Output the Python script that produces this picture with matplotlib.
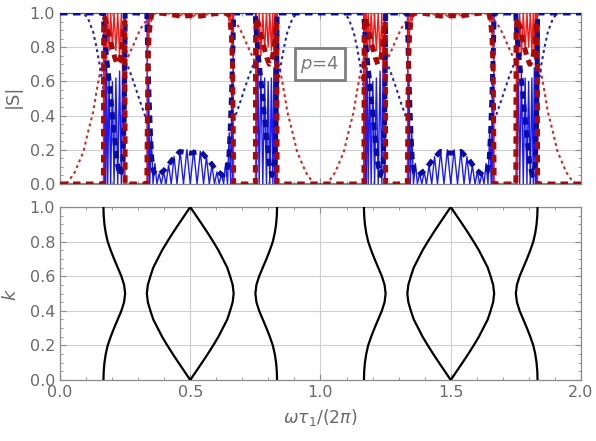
import matplotlib.pyplot as plt
import numpy as np

plt.rcParams['mathtext.fontset'] = 'dejavusans'

# ---------------- top panel: |S| vs omega*tau1/(2pi) ----------------
# finite structure, solid lines (|r| blue, |t| red), one list per pass band
w_b1 = [0.1667, 0.1670, 0.1677, 0.1689, 0.1705, 0.1728, 0.1755, 0.1790, 0.1830, 0.1885, 0.1945,
        0.2010, 0.2075, 0.2145, 0.2215, 0.2287, 0.2355, 0.2412, 0.2460, 0.2485, 0.2500]
r_b1 = [1.0, 0.99, 0.0, 0.90, 0.0, 0.78, 0.0, 0.68, 0.0, 0.62, 0.0,
        0.60, 0.0, 0.62, 0.0, 0.66, 0.0, 0.80, 0.0, 0.97, 1.0]
t_b1 = [0.0, 0.14, 1.0, 0.44, 1.0, 0.63, 1.0, 0.73, 1.0, 0.78, 1.0,
        0.80, 1.0, 0.78, 1.0, 0.75, 1.0, 0.60, 1.0, 0.24, 0.0]

w_b2 = [0.3333, 0.3341, 0.3365, 0.3400, 0.3445, 0.3505, 0.3570, 0.3643, 0.3720, 0.3803, 0.3890,
        0.3978, 0.4070, 0.4168, 0.4270, 0.4378, 0.4490, 0.4613, 0.4740, 0.4870, 0.5000,
        0.5130, 0.5260, 0.5387, 0.5510, 0.5622, 0.5730, 0.5832, 0.5930, 0.6022, 0.6110,
        0.6197, 0.6280, 0.6357, 0.6430, 0.6495, 0.6555, 0.6600, 0.6635, 0.6659, 0.6667]
r_b2 = [1.0, 0.95, 0.0, 0.60, 0.0, 0.30, 0.0, 0.12, 0.0, 0.06, 0.0,
        0.07, 0.0, 0.11, 0.0, 0.16, 0.0, 0.19, 0.0, 0.20, 0.0,
        0.20, 0.0, 0.19, 0.0, 0.16, 0.0, 0.11, 0.0, 0.07, 0.0,
        0.06, 0.0, 0.12, 0.0, 0.30, 0.0, 0.60, 0.0, 0.95, 1.0]
t_b2 = [0.0, 0.31, 1.0, 0.80, 1.0, 0.95, 1.0, 0.993, 1.0, 0.998, 1.0,
        0.998, 1.0, 0.994, 1.0, 0.987, 1.0, 0.982, 1.0, 0.980, 1.0,
        0.980, 1.0, 0.982, 1.0, 0.987, 1.0, 0.994, 1.0, 0.998, 1.0,
        0.998, 1.0, 0.993, 1.0, 0.95, 1.0, 0.80, 1.0, 0.31, 0.0]

w_b3 = [0.7500, 0.7515, 0.7540, 0.7588, 0.7645, 0.7713, 0.7785, 0.7855, 0.7925, 0.7990, 0.8055,
        0.8115, 0.8170, 0.8210, 0.8245, 0.8272, 0.8295, 0.8311, 0.8323, 0.8330, 0.8333]
r_b3 = [1.0, 0.97, 0.0, 0.80, 0.0, 0.66, 0.0, 0.62, 0.0, 0.60, 0.0,
        0.62, 0.0, 0.68, 0.0, 0.78, 0.0, 0.90, 0.0, 0.99, 1.0]
t_b3 = [0.0, 0.24, 1.0, 0.60, 1.0, 0.75, 1.0, 0.78, 1.0, 0.80, 1.0,
        0.78, 1.0, 0.73, 1.0, 0.63, 1.0, 0.44, 1.0, 0.14, 0.0]

w_b4 = [1.1667, 1.1670, 1.1677, 1.1689, 1.1705, 1.1728, 1.1755, 1.1790, 1.1830, 1.1885, 1.1945,
        1.2010, 1.2075, 1.2145, 1.2215, 1.2287, 1.2355, 1.2412, 1.2460, 1.2485, 1.2500]
r_b4 = [1.0, 0.99, 0.0, 0.90, 0.0, 0.78, 0.0, 0.68, 0.0, 0.62, 0.0,
        0.60, 0.0, 0.62, 0.0, 0.66, 0.0, 0.80, 0.0, 0.97, 1.0]
t_b4 = [0.0, 0.14, 1.0, 0.44, 1.0, 0.63, 1.0, 0.73, 1.0, 0.78, 1.0,
        0.80, 1.0, 0.78, 1.0, 0.75, 1.0, 0.60, 1.0, 0.24, 0.0]

w_b5 = [1.3333, 1.3341, 1.3365, 1.3400, 1.3445, 1.3505, 1.3570, 1.3643, 1.3720, 1.3803, 1.3890,
        1.3978, 1.4070, 1.4168, 1.4270, 1.4378, 1.4490, 1.4613, 1.4740, 1.4870, 1.5000,
        1.5130, 1.5260, 1.5387, 1.5510, 1.5622, 1.5730, 1.5832, 1.5930, 1.6022, 1.6110,
        1.6197, 1.6280, 1.6357, 1.6430, 1.6495, 1.6555, 1.6600, 1.6635, 1.6659, 1.6667]
r_b5 = [1.0, 0.95, 0.0, 0.60, 0.0, 0.30, 0.0, 0.12, 0.0, 0.06, 0.0,
        0.07, 0.0, 0.11, 0.0, 0.16, 0.0, 0.19, 0.0, 0.20, 0.0,
        0.20, 0.0, 0.19, 0.0, 0.16, 0.0, 0.11, 0.0, 0.07, 0.0,
        0.06, 0.0, 0.12, 0.0, 0.30, 0.0, 0.60, 0.0, 0.95, 1.0]
t_b5 = [0.0, 0.31, 1.0, 0.80, 1.0, 0.95, 1.0, 0.993, 1.0, 0.998, 1.0,
        0.998, 1.0, 0.994, 1.0, 0.987, 1.0, 0.982, 1.0, 0.980, 1.0,
        0.980, 1.0, 0.982, 1.0, 0.987, 1.0, 0.994, 1.0, 0.998, 1.0,
        0.998, 1.0, 0.993, 1.0, 0.95, 1.0, 0.80, 1.0, 0.31, 0.0]

w_b6 = [1.7500, 1.7515, 1.7540, 1.7588, 1.7645, 1.7713, 1.7785, 1.7855, 1.7925, 1.7990, 1.8055,
        1.8115, 1.8170, 1.8210, 1.8245, 1.8272, 1.8295, 1.8311, 1.8323, 1.8330, 1.8333]
r_b6 = [1.0, 0.97, 0.0, 0.80, 0.0, 0.66, 0.0, 0.62, 0.0, 0.60, 0.0,
        0.62, 0.0, 0.68, 0.0, 0.78, 0.0, 0.90, 0.0, 0.99, 1.0]
t_b6 = [0.0, 0.24, 1.0, 0.60, 1.0, 0.75, 1.0, 0.78, 1.0, 0.80, 1.0,
        0.78, 1.0, 0.73, 1.0, 0.63, 1.0, 0.44, 1.0, 0.14, 0.0]

# thick dashed curves, one list per period
w_env1 = [0.0, 0.1667, 0.1675, 0.1720, 0.1800, 0.1900, 0.2000, 0.2100, 0.2200, 0.2300, 0.2400, 0.2460, 0.2490, 0.2500,
          0.3333, 0.3370, 0.3420, 0.3470, 0.3520, 0.3600, 0.3750, 0.4000, 0.4300, 0.4600, 0.5000,
          0.5400, 0.5700, 0.6000, 0.6250, 0.6400, 0.6480, 0.6530, 0.6580, 0.6630, 0.6667,
          0.7500, 0.7508, 0.7553, 0.7633, 0.7733, 0.7833, 0.7933, 0.8033, 0.8133, 0.8233, 0.8293, 0.8323, 0.8333]
r_env1 = [1.0, 1.0, 0.95, 0.85, 0.72, 0.58, 0.42, 0.26, 0.12, 0.05, 0.10, 0.35, 0.75, 1.0,
          1.0, 0.75, 0.50, 0.30, 0.15, 0.07, 0.05, 0.08, 0.14, 0.19, 0.18,
          0.19, 0.14, 0.08, 0.05, 0.07, 0.15, 0.30, 0.50, 0.75, 1.0,
          1.0, 0.95, 0.85, 0.72, 0.58, 0.42, 0.26, 0.12, 0.05, 0.10, 0.35, 0.75, 1.0]
t_env1 = [0.0, 0.0, 0.90, 0.97, 0.93, 0.86, 0.80, 0.74, 0.70, 0.72, 0.82, 0.93, 0.95, 0.0,
          0.0, 0.66, 0.87, 0.95, 0.99, 0.998, 0.999, 0.997, 0.99, 0.982, 0.984,
          0.982, 0.99, 0.997, 0.999, 0.998, 0.99, 0.95, 0.87, 0.66, 0.0,
          0.0, 0.90, 0.97, 0.93, 0.86, 0.80, 0.74, 0.70, 0.72, 0.82, 0.93, 0.95, 0.0]
w_env2 = [1.1667, 1.1675, 1.1720, 1.1800, 1.1900, 1.2000, 1.2100, 1.2200, 1.2300, 1.2400, 1.2460, 1.2490, 1.2500,
          1.3333, 1.3370, 1.3420, 1.3470, 1.3520, 1.3600, 1.3750, 1.4000, 1.4300, 1.4600, 1.5000,
          1.5400, 1.5700, 1.6000, 1.6250, 1.6400, 1.6480, 1.6530, 1.6580, 1.6630, 1.6667,
          1.7500, 1.7508, 1.7553, 1.7633, 1.7733, 1.7833, 1.7933, 1.8033, 1.8133, 1.8233, 1.8293, 1.8323, 1.8333, 2.0]
r_env2 = [1.0, 0.95, 0.85, 0.72, 0.58, 0.42, 0.26, 0.12, 0.05, 0.10, 0.35, 0.75, 1.0,
          1.0, 0.75, 0.50, 0.30, 0.15, 0.07, 0.05, 0.08, 0.14, 0.19, 0.18,
          0.19, 0.14, 0.08, 0.05, 0.07, 0.15, 0.30, 0.50, 0.75, 1.0,
          1.0, 0.95, 0.85, 0.72, 0.58, 0.42, 0.26, 0.12, 0.05, 0.10, 0.35, 0.75, 1.0, 1.0]
t_env2 = [0.0, 0.90, 0.97, 0.93, 0.86, 0.80, 0.74, 0.70, 0.72, 0.82, 0.93, 0.95, 0.0,
          0.0, 0.66, 0.87, 0.95, 0.99, 0.998, 0.999, 0.997, 0.99, 0.982, 0.984,
          0.982, 0.99, 0.997, 0.999, 0.998, 0.99, 0.95, 0.87, 0.66, 0.0,
          0.0, 0.90, 0.97, 0.93, 0.86, 0.80, 0.74, 0.70, 0.72, 0.82, 0.93, 0.95, 0.0, 0.0]

# single-cell curves (dotted), only inside the stop bands
w_g1 = [0.0, 0.015, 0.03, 0.057, 0.09, 0.107, 0.127, 0.14, 0.153, 0.1667]
t_g1 = [0.0, 0.0, 0.01, 0.07, 0.19, 0.30, 0.42, 0.54, 0.65, 0.74]
r_g1 = [1.0, 1.0, 1.0, 1.0, 0.998, 0.97, 0.89, 0.80, 0.69, 0.55]
w_g2 = [0.25, 0.26, 0.275, 0.295, 0.31, 0.3333]
t_g2 = [0.71, 0.74, 0.79, 0.86, 0.91, 0.96]
r_g2 = [0.72, 0.69, 0.63, 0.54, 0.47, 0.37]
w_g3 = [0.6667, 0.69, 0.705, 0.725, 0.74, 0.75]
t_g3 = [0.96, 0.91, 0.86, 0.79, 0.74, 0.71]
r_g3 = [0.37, 0.47, 0.54, 0.63, 0.69, 0.72]
w_g4 = [0.8333, 0.847, 0.86, 0.873, 0.893, 0.91, 0.943, 0.97, 0.985, 1.0,
        1.015, 1.03, 1.057, 1.09, 1.107, 1.127, 1.14, 1.153, 1.1667]
t_g4 = [0.74, 0.65, 0.54, 0.42, 0.30, 0.19, 0.07, 0.01, 0.0, 0.0,
        0.0, 0.01, 0.07, 0.19, 0.30, 0.42, 0.54, 0.65, 0.74]
r_g4 = [0.55, 0.69, 0.80, 0.89, 0.97, 0.998, 1.0, 1.0, 1.0, 1.0,
        1.0, 1.0, 1.0, 0.998, 0.97, 0.89, 0.80, 0.69, 0.55]
w_g5 = [1.25, 1.26, 1.275, 1.295, 1.31, 1.3333]
t_g5 = [0.71, 0.74, 0.79, 0.86, 0.91, 0.96]
r_g5 = [0.72, 0.69, 0.63, 0.54, 0.47, 0.37]
w_g6 = [1.6667, 1.69, 1.705, 1.725, 1.74, 1.75]
t_g6 = [0.96, 0.91, 0.86, 0.79, 0.74, 0.71]
r_g6 = [0.37, 0.47, 0.54, 0.63, 0.69, 0.72]
w_g7 = [1.8333, 1.847, 1.86, 1.873, 1.893, 1.91, 1.943, 1.97, 1.985, 2.0]
t_g7 = [0.74, 0.65, 0.54, 0.42, 0.30, 0.19, 0.07, 0.01, 0.0, 0.0]
r_g7 = [0.55, 0.69, 0.80, 0.89, 0.97, 0.998, 1.0, 1.0, 1.0, 1.0]

# ---------------- bottom panel: band structure k(omega) ----------------
k_vals = [0.0, 0.05, 0.1, 0.15, 0.2, 0.25, 0.3, 0.35, 0.4, 0.45, 0.5,
          0.55, 0.6, 0.65, 0.7, 0.75, 0.8, 0.85, 0.9, 0.95, 1.0]
band_a1 = [0.1667, 0.1677, 0.1705, 0.1755, 0.1830, 0.1945, 0.2075, 0.2215, 0.2355, 0.2460, 0.2500,
           0.2460, 0.2355, 0.2215, 0.2075, 0.1945, 0.1830, 0.1755, 0.1705, 0.1677, 0.1667]
band_b1 = [0.5000, 0.4775, 0.4550, 0.4330, 0.4120, 0.3920, 0.3750, 0.3580, 0.3470, 0.3372, 0.3333,
           0.3372, 0.3470, 0.3580, 0.3750, 0.3920, 0.4120, 0.4330, 0.4550, 0.4775, 0.5000]
band_c1 = [0.5000, 0.5225, 0.5450, 0.5670, 0.5880, 0.6080, 0.6250, 0.6420, 0.6530, 0.6628, 0.6667,
           0.6628, 0.6530, 0.6420, 0.6250, 0.6080, 0.5880, 0.5670, 0.5450, 0.5225, 0.5000]
band_d1 = [0.8333, 0.8323, 0.8295, 0.8245, 0.8170, 0.8055, 0.7925, 0.7785, 0.7645, 0.7540, 0.7500,
           0.7540, 0.7645, 0.7785, 0.7925, 0.8055, 0.8170, 0.8245, 0.8295, 0.8323, 0.8333]
band_a2 = [1.1667, 1.1677, 1.1705, 1.1755, 1.1830, 1.1945, 1.2075, 1.2215, 1.2355, 1.2460, 1.2500,
           1.2460, 1.2355, 1.2215, 1.2075, 1.1945, 1.1830, 1.1755, 1.1705, 1.1677, 1.1667]
band_b2 = [1.5000, 1.4775, 1.4550, 1.4330, 1.4120, 1.3920, 1.3750, 1.3580, 1.3470, 1.3372, 1.3333,
           1.3372, 1.3470, 1.3580, 1.3750, 1.3920, 1.4120, 1.4330, 1.4550, 1.4775, 1.5000]
band_c2 = [1.5000, 1.5225, 1.5450, 1.5670, 1.5880, 1.6080, 1.6250, 1.6420, 1.6530, 1.6628, 1.6667,
           1.6628, 1.6530, 1.6420, 1.6250, 1.6080, 1.5880, 1.5670, 1.5450, 1.5225, 1.5000]
band_d2 = [1.8333, 1.8323, 1.8295, 1.8245, 1.8170, 1.8055, 1.7925, 1.7785, 1.7645, 1.7540, 1.7500,
           1.7540, 1.7645, 1.7785, 1.7925, 1.8055, 1.8170, 1.8245, 1.8295, 1.8323, 1.8333]

x_ticks = [0.0, 0.5, 1.0, 1.5, 2.0]
y_ticks = [0.0, 0.2, 0.4, 0.6, 0.8, 1.0]

# colours
c_blue, c_dblue, c_dotblue = '#1a1aff', '#0c0c9c', '#2424b8'
c_red, c_dred, c_dotred = '#f21c1c', '#a80a0a', '#d82424'
frame_col = '#8c8c8c'
label_col = '#6a6a6a'

# assemble solid curves band by band (gaps sit at |r|=1, |t|=0)
w_solid = [0.0] + w_b1 + w_b2 + w_b3 + w_b4 + w_b5 + w_b6 + [2.0]
r_solid = [1.0] + r_b1 + r_b2 + r_b3 + r_b4 + r_b5 + r_b6 + [1.0]
t_solid = [0.0] + t_b1 + t_b2 + t_b3 + t_b4 + t_b5 + t_b6 + [0.0]
w_env = w_env1 + w_env2
r_env = r_env1 + r_env2
t_env = t_env1 + t_env2

fig = plt.figure(figsize=(5.96, 4.41), dpi=100)
ax1 = fig.add_axes([0.1007, 0.5828, 0.8741, 0.3878])
ax2 = fig.add_axes([0.1007, 0.1383, 0.8741, 0.3923])

for ax in (ax1, ax2):
    ax.set_xlim(0, 2)
    ax.set_ylim(0, 1)
    ax.set_xticks(x_ticks)
    ax.set_xticks(np.arange(0, 2.01, 0.1), minor=True)
    ax.set_yticks(y_ticks)
    ax.set_yticks(np.arange(0, 1.001, 0.05), minor=True)
    ax.set_yticklabels(['%.1f' % v for v in y_ticks])
    ax.set_xticklabels(['%.1f' % v for v in x_ticks])
    ax.grid(True, which='major', color='#cfcfcf', lw=0.8, zorder=0)
    ax.tick_params(which='both', direction='in', top=True, right=True,
                   color=frame_col, labelcolor=label_col, labelsize=11.5)
    ax.tick_params(which='major', length=4, width=0.8)
    ax.tick_params(which='minor', length=2, width=0.6)
    for s in ax.spines.values():
        s.set_color(frame_col)
        s.set_linewidth(0.9)
ax1.tick_params(labelbottom=False)

# dotted single-cell curves
for w, t, r in [(w_g1, t_g1, r_g1), (w_g2, t_g2, r_g2), (w_g3, t_g3, r_g3), (w_g4, t_g4, r_g4),
                (w_g5, t_g5, r_g5), (w_g6, t_g6, r_g6), (w_g7, t_g7, r_g7)]:
    ax1.plot(w, t, color=c_dotred, lw=1.5, dashes=(1.4, 1.6), zorder=2)
    ax1.plot(w, r, color=c_dotblue, lw=1.5, dashes=(1.4, 1.6), zorder=2)

ax1.plot(w_solid, r_solid, color=c_blue, lw=1.0, zorder=3)
ax1.plot(w_solid, t_solid, color=c_red, lw=1.0, zorder=4)
ax1.plot(w_env, r_env, color=c_dblue, lw=3.6, dashes=(1.5, 1.1), zorder=5)
ax1.plot(w_env, t_env, color=c_dred, lw=3.6, dashes=(1.5, 1.1), zorder=6)

ax1.text(0.998, 0.70, r'$p$=4', fontsize=13, color='#7a7a7a', ha='center', va='center',
         bbox=dict(boxstyle='square,pad=0.3', fc='white', ec='#7f7f7f', lw=2), zorder=10)

for band in (band_a1, band_b1, band_c1, band_d1, band_a2, band_b2, band_c2, band_d2):
    ax2.plot(band, k_vals, color='black', lw=1.6, zorder=3)

fig.text(0.022, 0.782, '|S|', rotation=90, ha='center', va='center', fontsize=13, color=label_col)
fig.text(0.019, 0.333, r'$k$', rotation=90, ha='center', va='center', fontsize=13, color=label_col)
fig.text(0.537, 0.054, r'$\omega\tau_1/(2\pi)$', ha='center', va='center', fontsize=12.5, color=label_col)

fig.savefig('out.png', dpi=100)
